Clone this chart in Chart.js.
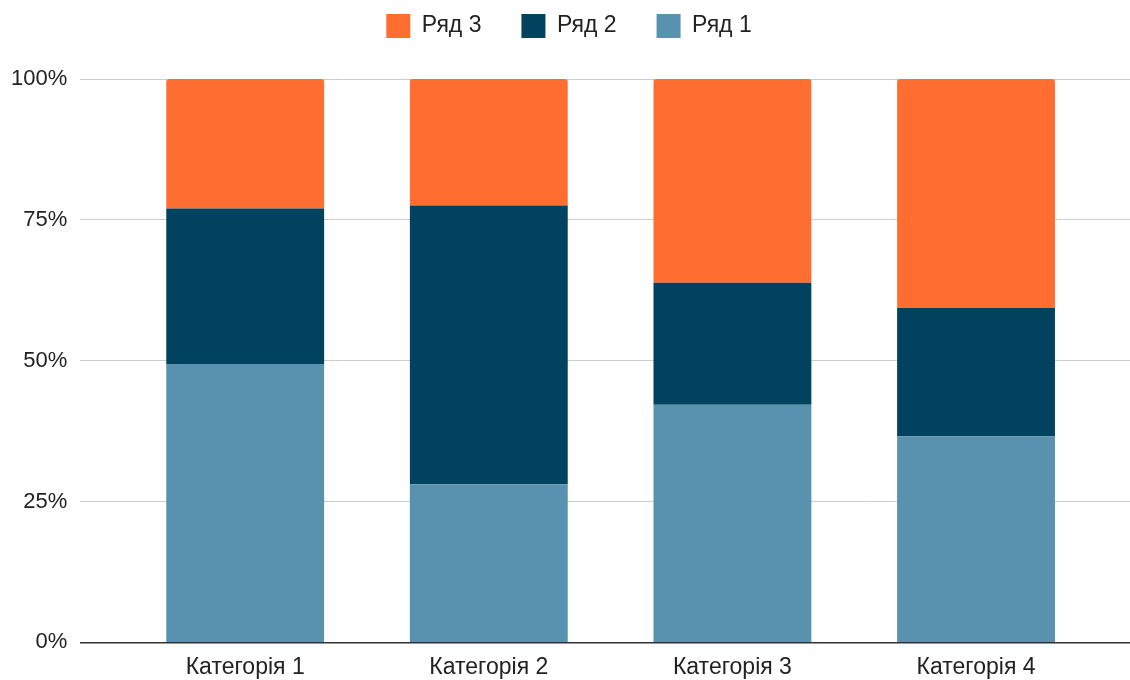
<!DOCTYPE html>
<html>
<head>
<meta charset="utf-8">
<script src="https://cdn.jsdelivr.net/npm/chart.js@4/dist/chart.umd.min.js"></script>
<style>
html,body{margin:0;padding:0;background:#fff;}
#wrap{width:1130px;height:680px;position:relative;}
</style>
</head>
<body>
<div id="wrap"><canvas id="c"></canvas></div>
<script>
const categories = ['Категорія 1', 'Категорія 2', 'Категорія 3', 'Категорія 4'];
const seriesNames = ['Ряд 1', 'Ряд 2', 'Ряд 3'];
const series1 = [4.3, 2.5, 3.5, 4.5];
const series2 = [2.4, 4.4, 1.8, 2.8];
const series3 = [2, 2, 3, 5];
const yTicks = [0, 25, 50, 75, 100];

const colors = ['#5892AF', '#01435E', '#FF6D31'];
const raw = [series1, series2, series3];
const totals = categories.map((_, i) => raw.reduce((s, arr) => s + arr[i], 0));

const datasets = raw.map((arr, k) => ({
  label: seriesNames[k],
  data: arr.map((v, i) => ({x: i + 1, y: v / totals[i] * 100})),
  backgroundColor: colors[k],
  borderWidth: 0,
  borderRadius: k === 2 ? {topLeft: 3, topRight: 3, bottomLeft: 0, bottomRight: 0} : 0,
  borderSkipped: false,
  categoryPercentage: 1,
  barPercentage: 0.648
}));

Chart.defaults.font.family = "'Liberation Sans', Arial, sans-serif";
Chart.defaults.color = '#333';

const legendSpacer = {
  id: 'legendSpacer',
  beforeLayout(chart) {
    const lg = chart.legend;
    if (lg && !lg._spacerPatched) {
      const orig = lg.fit;
      lg.fit = function () { orig.call(this); this.height += 31; };
      lg._spacerPatched = true;
    }
  },
  afterLayout(chart) {
    const lg = chart.legend;
    if (lg) { lg.left += 5; lg.right += 5; }
  }
};

new Chart(document.getElementById('c'), {
  type: 'bar',
  data: {datasets},
  plugins: [legendSpacer],
  options: {
    responsive: true,
    maintainAspectRatio: false,
    animation: false,
    layout: {padding: {top: -26, left: -2, right: 0, bottom: -12}},
    plugins: {
      tooltip: {enabled: false},
      legend: {
        position: 'top',
        reverse: true,
        labels: {
          boxWidth: 24,
          boxHeight: 24,
          padding: 40,
          color: '#222',
          font: {size: 23}
        }
      }
    },
    scales: {
      x: {
        type: 'linear',
        stacked: true,
        offset: false,
        min: 0.323,
        max: 4.632,
        afterBuildTicks: (axis) => { axis.ticks = categories.map((_, i) => ({value: i + 1})); },
        ticks: {
          autoSkip: false,
          maxRotation: 0,
          padding: 11,
          color: '#222',
          font: {size: 23},
          callback: (v) => categories[Math.round(v) - 1] || ''
        },
        grid: {display: false, drawTicks: false, offset: false},
        border: {display: true, color: '#333', width: 1.5}
      },
      y: {
        stacked: true,
        min: 0,
        max: 100,
        afterBuildTicks: (axis) => { axis.ticks = yTicks.map(v => ({value: v})); },
        ticks: {
          padding: 13,
          color: '#222',
          font: {size: 22},
          callback: (v) => v + '%'
        },
        grid: {color: '#cccccc', lineWidth: 1, drawTicks: false},
        border: {display: false}
      }
    }
  }
});
</script>
</body>
</html>
